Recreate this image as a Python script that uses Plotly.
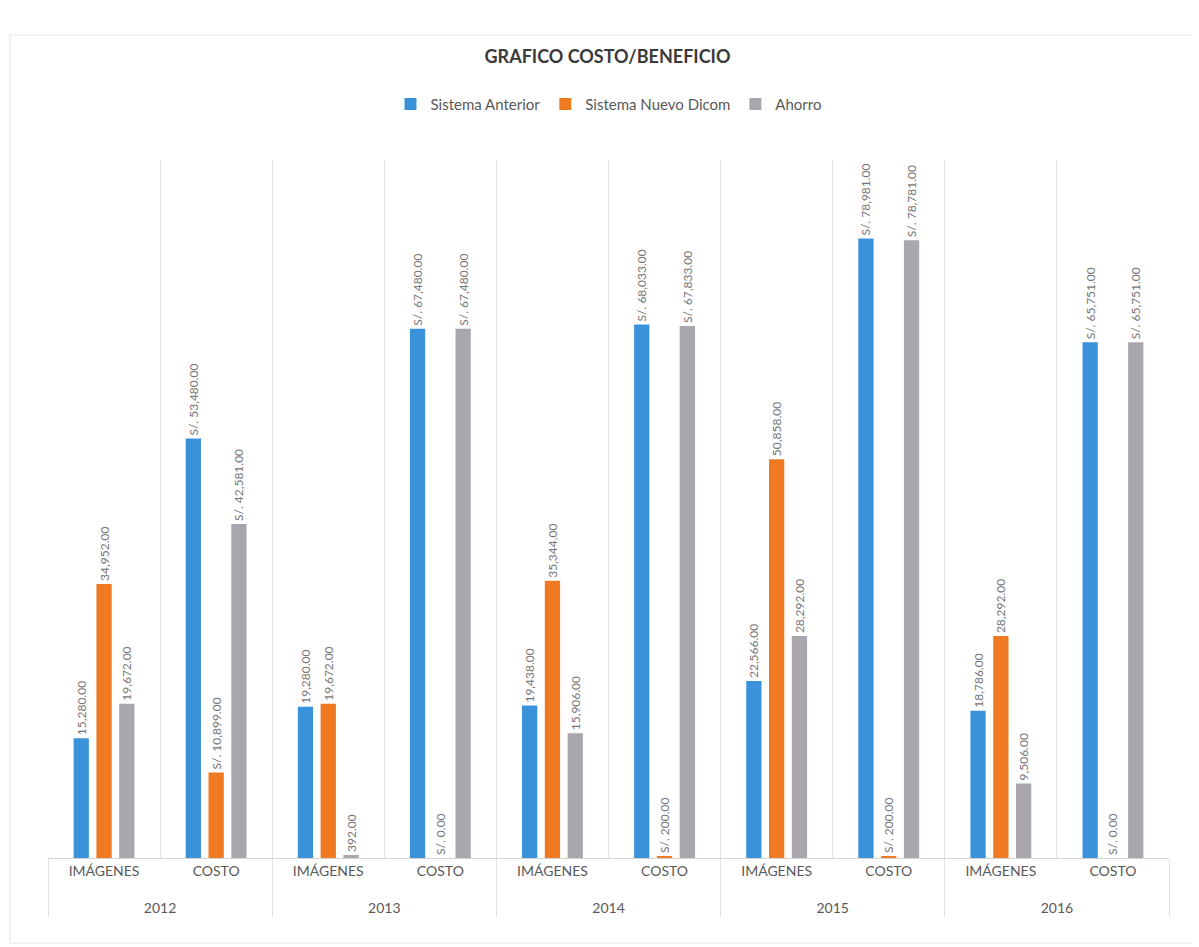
import plotly.graph_objects as go

# categories (year, item)
years = ["2012", "2012", "2013", "2013", "2014", "2014", "2015", "2015", "2016", "2016"]
items = ["IMÁGENES", "COSTO"] * 5

# series values
sistema_anterior = [15280, 53480, 19280, 67480, 19438, 68033, 22566, 78981, 18786, 65751]
sistema_nuevo = [34952, 10899, 19672, 0, 35344, 200, 50858, 200, 28292, 0]
ahorro = [19672, 42581, 392, 67480, 15906, 67833, 28292, 78781, 9506, 65751]


def labels(values):
    # costs are shown in soles, image counts as plain numbers
    out = []
    for item, v in zip(items, values):
        prefix = "S/. " if item == "COSTO" else ""
        out.append(prefix + f"{v:,.2f}")
    return out


series = [
    ("Sistema Anterior", sistema_anterior, "#3a93da"),
    ("Sistema Nuevo Dicom", sistema_nuevo, "#ef7a22"),
    ("Ahorro", ahorro, "#a9a7ad"),
]

# leading line break pushes the year row further down, like the original
year_row = ["<br>" + y for y in years]

fig = go.Figure()
for name, values, color in series:
    fig.add_trace(
        go.Bar(
            x=[year_row, items],
            y=values,
            name=name,
            marker=dict(color=color, line=dict(width=0)),
            text=labels(values),
            textposition="outside",
            textangle=-90,
            constraintext="none",
            textfont=dict(family="Lato", size=12, color="#767676"),
            cliponaxis=False,
        )
    )

fig.update_layout(
    width=1199,
    height=947,
    paper_bgcolor="white",
    plot_bgcolor="white",
    barmode="group",
    bargap=0.39,
    bargroupgap=0.33,
    margin=dict(l=40, r=38, t=152, b=97),
    font=dict(family="Lato", color="#595959"),
    title=dict(
        text="<b>GRAFICO COSTO/BENEFICIO</b>",
        x=0.5,
        xanchor="center",
        y=1 - 49 / 947,
        yanchor="middle",
        font=dict(family="Lato", size=18, color="#3a3a3a"),
    ),
    legend=dict(
        orientation="h",
        x=0.5,
        xanchor="center",
        y=1.08,
        yanchor="middle",
        font=dict(family="Lato", size=15, color="#595959"),
        itemwidth=30,
    ),
    xaxis=dict(
        type="multicategory",
        tickson="boundaries",
        automargin=False,
        showgrid=True,
        gridcolor="#e2e2e2",
        gridwidth=1,
        showline=True,
        linecolor="#d4d4d4",
        linewidth=1,
        ticks="",
        showdividers=True,
        dividercolor="#e2e2e2",
        dividerwidth=1,
        tickfont=dict(family="Lato", size=14, color="#595959"),
    ),
    yaxis=dict(
        range=[0, 89000],
        visible=False,
        showgrid=False,
        zeroline=False,
    ),
    shapes=[
        dict(
            type="rect",
            xref="paper",
            yref="paper",
            x0=-0.034,
            x1=1.035,
            y0=-0.122,
            y1=1.179,
            line=dict(color="#e6e6e6", width=1),
        )
    ],
)

fig.write_html("out.html")
